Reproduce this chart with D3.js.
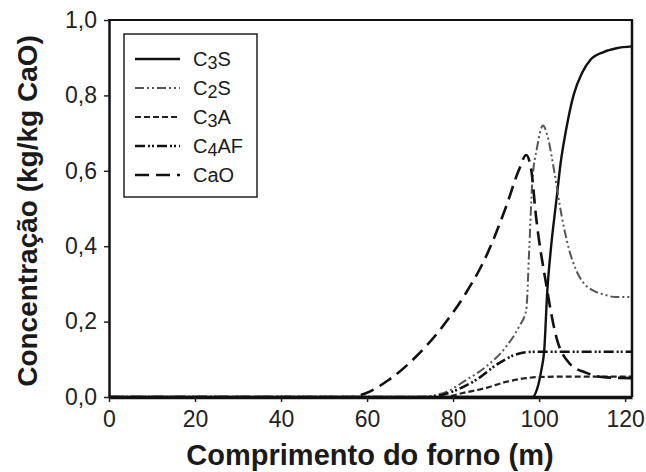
<!DOCTYPE html>
<html>
<head>
<meta charset="utf-8">
<script src="https://cdn.jsdelivr.net/npm/d3@7"></script>
<style>
  body { margin: 0; background: #fff; }
  svg { font-family: "Liberation Sans", Arial, sans-serif; }
</style>
</head>
<body>
<svg width="646" height="472"></svg>
<script>
// data
var c3sX = [0, 98.5, 99.5, 100.5, 101.2, 101.9, 102.8, 104, 105, 106.3, 108, 110, 112, 115, 118, 121.6];
var c3sY = [0, 0, 0.02, 0.07, 0.125, 0.28, 0.4, 0.52, 0.62, 0.71, 0.8, 0.86, 0.895, 0.915, 0.925, 0.93];

var c2sX = [0, 72, 78.3, 83, 87.6, 92.3, 95.3, 97, 97.7, 98.4, 99.5, 100.9, 102, 103.5, 105.3, 107, 108.6, 110.5, 112.3, 115, 117.9, 121.6];
var c2sY = [0, 0, 0.013, 0.045, 0.08, 0.133, 0.186, 0.23, 0.39, 0.568, 0.66, 0.72, 0.69, 0.6, 0.477, 0.39, 0.337, 0.3, 0.284, 0.272, 0.265, 0.265];

var c3aX = [0, 78, 82, 87.6, 92.3, 97, 100, 105, 121.6];
var c3aY = [0, 0, 0.01, 0.024, 0.04, 0.05, 0.053, 0.054, 0.054];

var c4afX = [0, 74, 80, 85.3, 90.7, 94, 97, 100, 121.6];
var c4afY = [0, 0, 0.015, 0.045, 0.09, 0.11, 0.119, 0.12, 0.12];

var caoX = [0, 56, 59.7, 65, 71.3, 77.5, 83, 87.6, 92.3, 95.3, 97, 98.2, 99.3, 101.6, 104, 107, 111, 115.6, 121.6];
var caoY = [0, 0, 0.01, 0.045, 0.106, 0.186, 0.276, 0.371, 0.504, 0.602, 0.642, 0.6, 0.477, 0.302, 0.159, 0.09, 0.064, 0.052, 0.05];

var xTicks = [0, 20, 40, 60, 80, 100, 120];
var yTicks = [0, 0.2, 0.4, 0.6, 0.8, 1.0];

var seriesNames = [["C", "3", "S"], ["C", "2", "S"], ["C", "3", "A"], ["C", "4", "AF"], ["CaO", "", ""]];

var svg = d3.select("svg");

var x = d3.scaleLinear().domain([0, 121.6]).range([109, 632]);
var y = d3.scaleLinear().domain([0, 1]).range([397, 20]);

// series styles
var styles = [
  { xs: c3sX, ys: c3sY, stroke: "#111", width: 2.4, dash: null },
  { xs: c2sX, ys: c2sY, stroke: "#555", width: 2, dash: "9,3,2,3,2,3" },
  { xs: c3aX, ys: c3aY, stroke: "#222", width: 2.2, dash: "6,3" },
  { xs: c4afX, ys: c4afY, stroke: "#111", width: 2.6, dash: "10,3,2,2,2,3" },
  { xs: caoX, ys: caoY, stroke: "#111", width: 2.6, dash: "14,7" }
];

var line = d3.line()
  .x(function (d) { return x(d[0]); })
  .y(function (d) { return y(d[1]); })
  .curve(d3.curveMonotoneX);

var plot = svg.append("g");
styles.forEach(function (s) {
  var pts = s.xs.map(function (v, i) { return [v, s.ys[i]]; });
  plot.append("path")
    .attr("d", line(pts))
    .attr("fill", "none")
    .attr("stroke", s.stroke)
    .attr("stroke-width", s.width)
    .attr("stroke-dasharray", s.dash);
});

// frame
svg.append("line").attr("x1", 108).attr("x2", 633).attr("y1", 20).attr("y2", 20)
  .attr("stroke", "#111").attr("stroke-width", 2);
svg.append("line").attr("x1", 632).attr("x2", 632).attr("y1", 20).attr("y2", 397)
  .attr("stroke", "#111").attr("stroke-width", 2.5);

// axes
var xAxis = svg.append("g")
  .attr("transform", "translate(0,397)")
  .call(d3.axisBottom(x).tickValues(xTicks).tickSize(5).tickSizeOuter(0).tickPadding(9));
var yAxis = svg.append("g")
  .attr("transform", "translate(109,0)")
  .call(d3.axisLeft(y).tickValues(yTicks).tickSize(5).tickSizeOuter(0).tickPadding(7)
    .tickFormat(function (d) { return d3.format(".1f")(d).replace(".", ","); }));

xAxis.select(".domain").attr("stroke", "#111").attr("stroke-width", 3.5);
yAxis.select(".domain").attr("stroke", "#111").attr("stroke-width", 2.5);
svg.selectAll(".tick line").attr("stroke", "#222").attr("stroke-width", 1.5);
svg.selectAll(".tick text").attr("fill", "#222").attr("font-size", 23)
  .attr("font-family", "Liberation Sans, Arial, sans-serif");

// axis titles
svg.append("text")
  .attr("x", 370).attr("y", 465)
  .attr("text-anchor", "middle")
  .attr("font-size", 29).attr("font-weight", "bold").attr("fill", "#1a1a1a")
  .text("Comprimento do forno (m)");

svg.append("text")
  .attr("transform", "translate(37,211) rotate(-90)")
  .attr("text-anchor", "middle")
  .attr("font-size", 28).attr("font-weight", "bold").attr("fill", "#1a1a1a")
  .text("Concentração (kg/kg CaO)");

// legend
var legend = svg.append("g");
legend.append("rect")
  .attr("x", 124).attr("y", 34).attr("width", 133).attr("height", 163)
  .attr("fill", "#fff").attr("stroke", "#222").attr("stroke-width", 1.5);

var rows = legend.selectAll("g.row").data(styles).enter().append("g")
  .attr("class", "row")
  .attr("transform", function (d, i) { return "translate(0," + (59 + i * 29) + ")"; });

rows.append("line")
  .attr("x1", 135).attr("x2", 180).attr("y1", 0).attr("y2", 0)
  .attr("stroke", function (d) { return d.stroke; })
  .attr("stroke-width", function (d) { return d.width; })
  .attr("stroke-dasharray", function (d) { return d.dash; });

var labels = rows.append("text")
  .attr("x", 193).attr("y", 7)
  .attr("font-size", 20).attr("fill", "#1a1a1a");
labels.each(function (d, i) {
  var t = d3.select(this);
  var n = seriesNames[i];
  t.append("tspan").text(n[0]);
  if (n[1]) {
    t.append("tspan").attr("font-size", 18).attr("dy", 3).text(n[1]);
    t.append("tspan").attr("dy", -3).text(n[2]);
  }
});
</script>
</body>
</html>
